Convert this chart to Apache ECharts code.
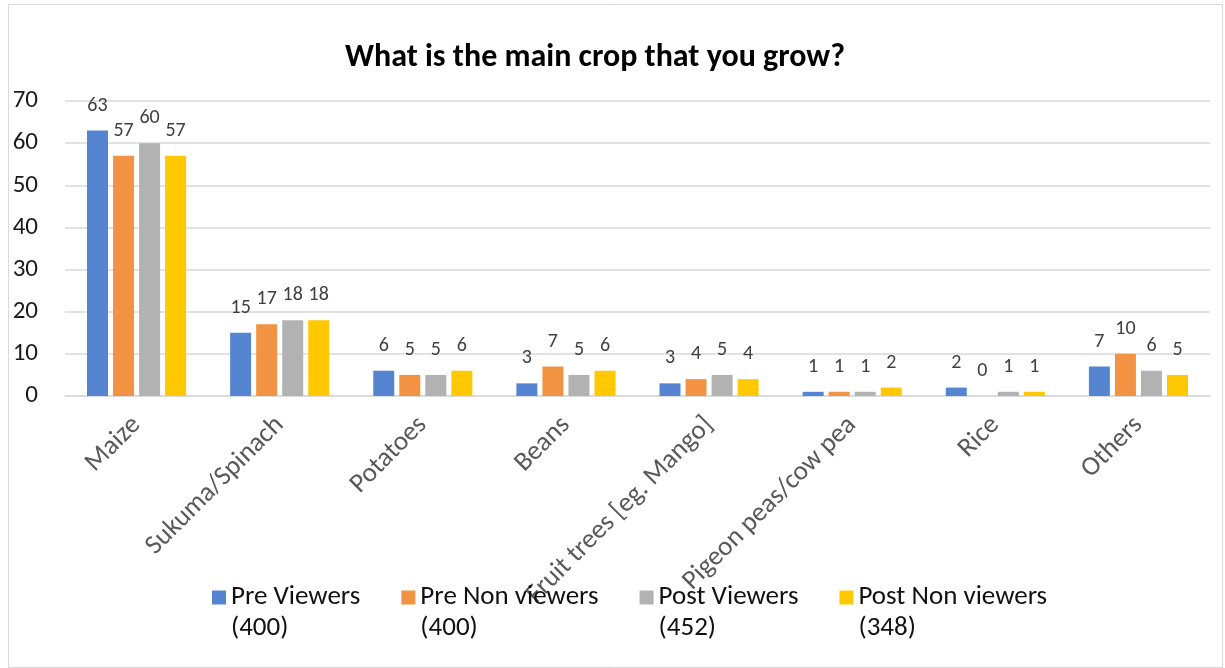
<!DOCTYPE html>
<html>
<head>
<meta charset="utf-8">
<script src="https://cdn.jsdelivr.net/npm/echarts@6/dist/echarts.min.js"></script>
<style>html,body{margin:0;padding:0;background:#fff}#c{width:1225px;height:668px}</style>
</head>
<body>
<div id="c"></div>
<script>
const categories = ['Maize', 'Sukuma/Spinach', 'Potatoes', 'Beans', 'Fruit trees [eg. Mango]', 'Pigeon peas/cow pea', 'Rice', 'Others'];
const seriesNames = ['Pre Viewers', 'Pre Non viewers', 'Post Viewers', 'Post Non viewers'];
const sampleSizes = ['(400)', '(400)', '(452)', '(348)'];
const preViewers = [63, 15, 6, 3, 3, 1, 2, 7];
const preNonViewers = [57, 17, 5, 7, 4, 1, 0, 10];
const postViewers = [60, 18, 5, 5, 5, 1, 1, 6];
const postNonViewers = [57, 18, 6, 6, 4, 2, 1, 5];
const colors = ['#5585D0', '#F29343', '#B2B2B2', '#FFC800'];
const yTicks = { min: 0, max: 70, interval: 10 };

const font = 'Carlito, "Liberation Sans", Arial, sans-serif';
const values = [preViewers, preNonViewers, postViewers, postNonViewers];

const chart = echarts.init(document.getElementById('c'), null, { renderer: 'canvas' });
chart.setOption({
  animation: false,
  color: colors,
  textStyle: { fontFamily: font },
  graphic: [{
    type: 'rect', left: 6, top: 2, shape: { width: 1214, height: 663 },
    style: { fill: 'none', stroke: '#D9D9D9', lineWidth: 1 }, silent: true
  }],
  title: {
    text: 'What is the main crop that you grow?',
    left: 340, top: 37,
    textStyle: { fontFamily: font, fontSize: 32, fontWeight: 'bold', color: '#000' }
  },
  legend: {
    left: 207, top: 548, itemGap: 41, itemWidth: 14, itemHeight: 14,
    icon: 'rect',
    formatter: function (name) {
      const i = seriesNames.indexOf(name);
      return '{p| }\n{a|' + name + '}\n{a|' + sampleSizes[i] + '}';
    },
    textStyle: {
      fontFamily: font, fontSize: 27, color: '#111',
      rich: {
        p: { fontSize: 27, lineHeight: 31, fontFamily: font },
        a: { fontSize: 27, lineHeight: 31, fontFamily: font, color: '#111' }
      }
    },
    data: seriesNames
  },
  grid: { left: 65, right: 15, top: 101, bottom: 272 },
  xAxis: {
    type: 'category', data: categories,
    axisTick: { show: false },
    axisLine: { lineStyle: { color: '#D9D9D9', width: 1.5 } },
    axisLabel: { rotate: 45, fontSize: 27, color: '#595959', margin: 25, fontFamily: font, interval: 0 }
  },
  yAxis: {
    type: 'value', min: yTicks.min, max: yTicks.max, interval: yTicks.interval,
    axisLine: { show: false }, axisTick: { show: false },
    splitLine: { lineStyle: { color: '#D9D9D9', width: 1.5 } },
    axisLabel: { fontSize: 25, color: '#1a1a1a', margin: 27, fontFamily: font }
  },
  series: values.map((v, i) => ({
    name: seriesNames[i], type: 'bar', data: v,
    barWidth: 21, barGap: '24%',
    itemStyle: { color: colors[i] },
    label: { show: true, position: 'top', distance: 15, fontSize: 20, color: '#404040', fontFamily: font }
  }))
});
</script>
</body>
</html>
